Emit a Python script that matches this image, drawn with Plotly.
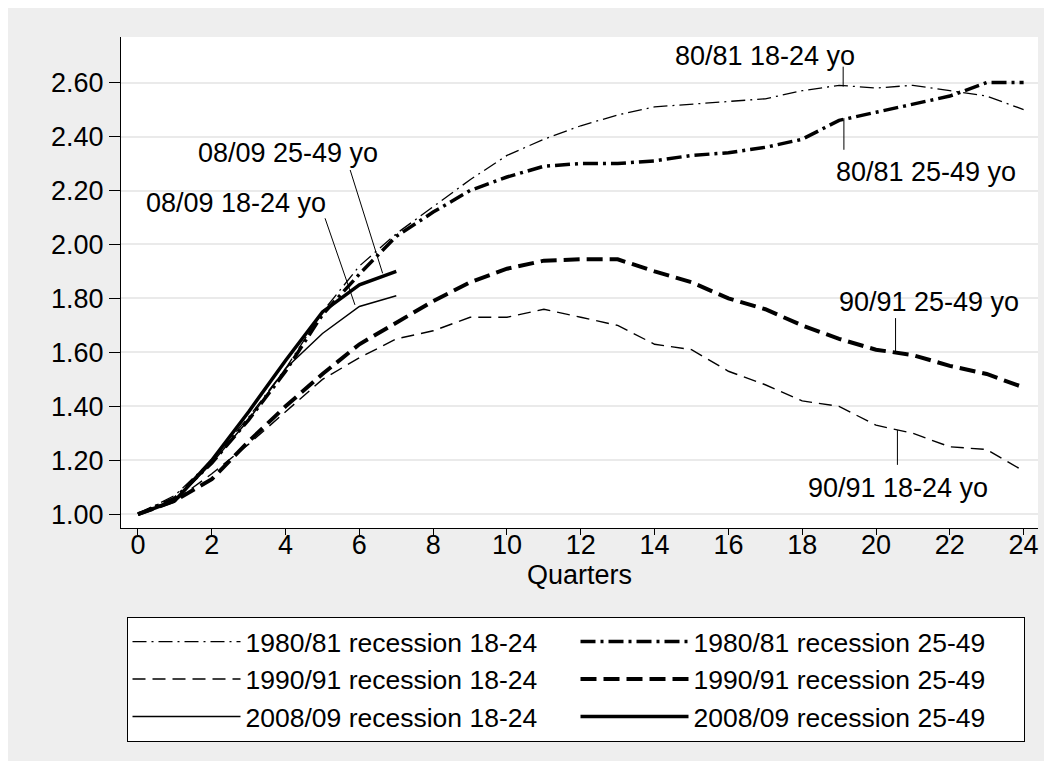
import plotly.graph_objects as go

# quarters since start of recession
quarters = list(range(25))
quarters_0809 = list(range(8))

# employment index (start of recession = 1.00)
r8081_1824 = [1.00, 1.07, 1.20, 1.36, 1.54, 1.75, 1.92, 2.04, 2.14, 2.24, 2.33, 2.39, 2.44,
              2.48, 2.51, 2.52, 2.53, 2.54, 2.57, 2.59, 2.58, 2.59, 2.57, 2.55, 2.50]
r8081_2549 = [1.00, 1.06, 1.19, 1.35, 1.53, 1.74, 1.89, 2.03, 2.12, 2.20, 2.25, 2.29, 2.30,
              2.30, 2.31, 2.33, 2.34, 2.36, 2.39, 2.46, 2.49, 2.52, 2.55, 2.60, 2.60]
r9091_1824 = [1.00, 1.05, 1.15, 1.26, 1.38, 1.50, 1.58, 1.65, 1.68, 1.73, 1.73, 1.76, 1.73,
              1.70, 1.63, 1.61, 1.53, 1.48, 1.42, 1.40, 1.33, 1.30, 1.25, 1.24, 1.16]
r9091_2549 = [1.00, 1.05, 1.13, 1.27, 1.40, 1.52, 1.63, 1.71, 1.79, 1.86, 1.91, 1.94, 1.945,
              1.945, 1.90, 1.86, 1.80, 1.76, 1.70, 1.65, 1.61, 1.59, 1.55, 1.52, 1.47]
r0809_1824 = [1.00, 1.05, 1.19, 1.35, 1.54, 1.67, 1.77, 1.81]
r0809_2549 = [1.00, 1.05, 1.20, 1.38, 1.57, 1.75, 1.85, 1.90]

y_ticks = [1.0, 1.2, 1.4, 1.6, 1.8, 2.0, 2.2, 2.4, 2.6]
x_ticks = list(range(0, 25, 2))

# in-chart labels: text, label position, leader line start/end
labels = [
    ("08/09 25-49 yo", 4.07, 2.34, (5.75, 2.276), (6.63, 1.893)),
    ("08/09 18-24 yo", 2.66, 2.154, (5.07, 2.097), (5.88, 1.776)),
    ("80/81 18-24 yo", 16.98, 2.70, (19.11, 2.659), (19.11, 2.585)),
    ("80/81 25-49 yo", 21.36, 2.27, (19.13, 2.468), (19.13, 2.351)),
    ("90/91 25-49 yo", 21.44, 1.787, (20.53, 1.727), (20.53, 1.603)),
    ("90/91 18-24 yo", 20.60, 1.098, (20.58, 1.312), (20.58, 1.183)),
]

FONT = "Liberation Sans, Arial, sans-serif"
FS = 27

fig = go.Figure()

series = [
    ("1980/81 recession 18-24", quarters, r8081_1824, 1.3, "14px,5px,2px,5px"),
    ("1980/81 recession 25-49", quarters, r8081_2549, 3.5, "15px,5px,3px,5px"),
    ("1990/91 recession 18-24", quarters, r9091_1824, 1.4, "13px,7px"),
    ("1990/91 recession 25-49", quarters, r9091_2549, 4, "16px,7px"),
    ("2008/09 recession 18-24", quarters_0809, r0809_1824, 1.5, "solid"),
    ("2008/09 recession 25-49", quarters_0809, r0809_2549, 3.5, "solid"),
]
for name, xs, ys, w, dash in series:
    fig.add_trace(go.Scatter(
        x=xs, y=ys, mode="lines", name=name,
        line=dict(color="black", width=w, dash=dash),
    ))

for text, tx, ty, p0, p1 in labels:
    fig.add_annotation(x=tx, y=ty, text=text, showarrow=False,
                       font=dict(size=FS, color="black", family=FONT))
    fig.add_shape(type="line", x0=p0[0], y0=p0[1], x1=p1[0], y1=p1[1],
                  line=dict(color="black", width=1))

# page body margin (8px white) frames the grey figure
fig.update_layout(
    width=1036, height=753,
    margin=dict(l=113, r=6, t=29, b=233),
    paper_bgcolor="#EEEEEE",
    plot_bgcolor="white",
    font=dict(family=FONT, size=FS, color="black"),
    showlegend=True,
    legend=dict(
        orientation="h", x=0.006, xanchor="left", y=-0.181, yanchor="top",
        bgcolor="white", bordercolor="black", borderwidth=1,
        itemwidth=108, entrywidth=325, entrywidthmode="pixels",
        font=dict(size=26.5, family=FONT), traceorder="normal",
    ),
    xaxis=dict(
        range=[-0.46, 24.39], tickvals=x_ticks, showgrid=False, zeroline=False,
        showline=True, linecolor="black", linewidth=1,
        ticks="outside", ticklen=6, tickcolor="black", ticklabelstandoff=-13,
        title=dict(text="Quarters", standoff=0, font=dict(size=FS)),
        tickfont=dict(size=FS),
    ),
    yaxis=dict(
        range=[0.949, 2.769], tickvals=y_ticks, tickformat=".2f",
        showgrid=True, gridcolor="#EAEAEA", gridwidth=2, zeroline=False,
        showline=True, linecolor="black", linewidth=1,
        ticks="outside", ticklen=11, tickcolor="black",
        tickfont=dict(size=FS),
    ),
)

fig.write_html("out.html")
